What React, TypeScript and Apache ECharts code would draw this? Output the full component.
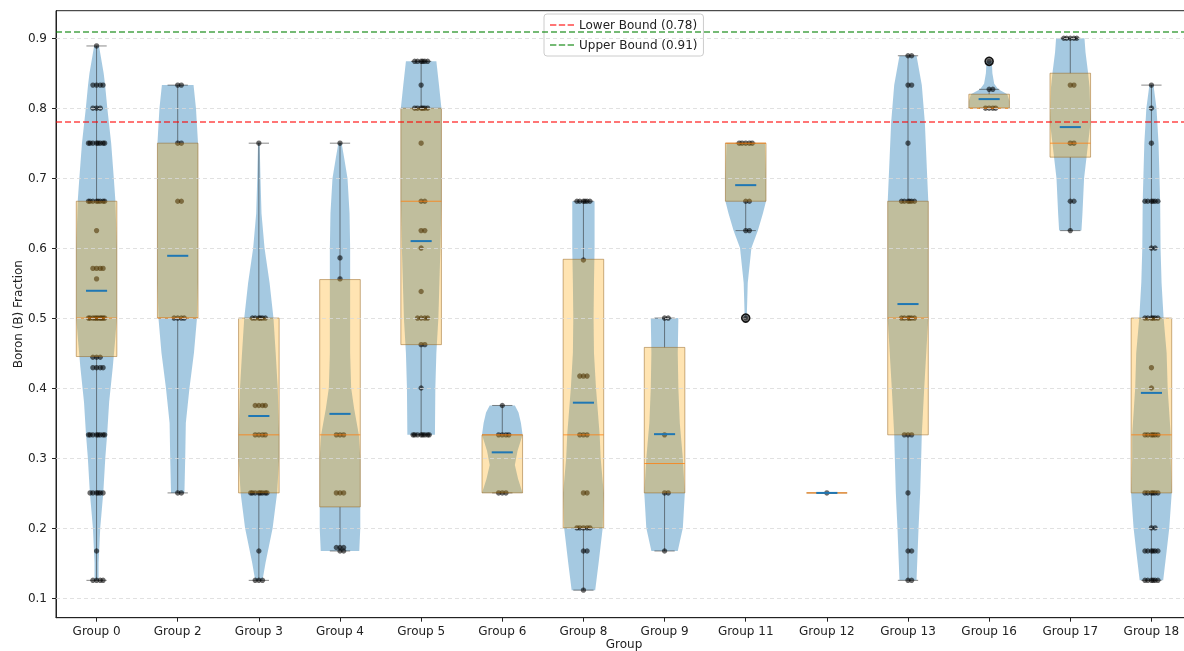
import React, { useEffect, useRef } from 'react';
import * as echarts from 'echarts';

const CATEGORIES = ['Group 0', 'Group 2', 'Group 3', 'Group 4', 'Group 5', 'Group 6', 'Group 8', 'Group 9', 'Group 11', 'Group 12', 'Group 13', 'Group 16', 'Group 17', 'Group 18'];

const Y_TICKS = [0.1, 0.2, 0.3, 0.4, 0.5, 0.6, 0.7, 0.8, 0.9];

const LOWER_BOUND = 0.78;
const UPPER_BOUND = 0.91;

// box statistics per group
const Q1 = [0.445, 0.5, 0.25, 0.23, 0.462, 0.25, 0.2, 0.25, 0.667, 0.25, 0.333, 0.8, 0.73, 0.25];
const Q3 = [0.667, 0.75, 0.5, 0.555, 0.8, 0.333, 0.584, 0.458, 0.75, 0.25, 0.667, 0.82, 0.85, 0.5];
const MEDIAN = [0.5, 0.5, 0.333, 0.333, 0.667, 0.333, 0.333, 0.292, 0.75, 0.25, 0.5, 0.8, 0.75, 0.333];
const MEAN = [0.539, 0.589, 0.36, 0.363, 0.61, 0.308, 0.379, 0.334, 0.69, 0.25, 0.52, 0.813, 0.773, 0.393];
const WHISKER_LOW = [0.125, 0.25, 0.125, 0.167, 0.333, 0.25, 0.111, 0.167, 0.625, 0.25, 0.125, 0.8, 0.625, 0.125];
const WHISKER_HIGH = [0.889, 0.833, 0.75, 0.75, 0.867, 0.375, 0.667, 0.5, 0.75, 0.25, 0.875, 0.827, 0.9, 0.833];
const FLIERS = [[], [], [], [], [], [], [], [], [0.5], [], [], [0.867], [], []];

// violin density profiles: [value, relative width (1 = widest)]
const VIOLINS = [
  [[0.125, 0.1], [0.15, 0.1], [0.2, 0.18], [0.25, 0.33], [0.3, 0.43], [0.333, 0.52], [0.38, 0.62], [0.43, 0.8], [0.47, 0.92], [0.5, 1], [0.6, 1], [0.667, 0.93], [0.7, 0.85], [0.75, 0.72], [0.8, 0.53], [0.833, 0.42], [0.85, 0.35], [0.889, 0.12]],
  [[0.25, 0.33], [0.3, 0.37], [0.35, 0.4], [0.4, 0.58], [0.45, 0.8], [0.5, 0.95], [0.55, 1], [0.667, 1], [0.75, 1], [0.8, 0.9], [0.833, 0.78]],
  [[0.125, 0.18], [0.15, 0.33], [0.2, 0.68], [0.25, 0.9], [0.3, 1], [0.333, 1], [0.4, 0.93], [0.45, 0.83], [0.5, 0.72], [0.55, 0.53], [0.6, 0.28], [0.65, 0.13], [0.7, 0.08], [0.75, 0.04]],
  [[0.167, 0.95], [0.2, 1], [0.23, 1], [0.3, 1], [0.333, 0.93], [0.37, 0.7], [0.4, 0.55], [0.45, 0.5], [0.5, 0.5], [0.555, 0.5], [0.6, 0.5], [0.65, 0.47], [0.7, 0.37], [0.73, 0.2], [0.75, 0.08]],
  [[0.333, 0.68], [0.4, 0.7], [0.45, 0.75], [0.5, 0.85], [0.6, 0.95], [0.667, 1], [0.75, 1], [0.8, 1], [0.833, 0.88], [0.867, 0.75]],
  [[0.25, 1], [0.27, 0.78], [0.29, 0.62], [0.31, 0.75], [0.333, 1], [0.35, 0.92], [0.365, 0.8], [0.375, 0.62]],
  [[0.111, 0.58], [0.15, 0.75], [0.2, 0.95], [0.25, 1], [0.3, 0.85], [0.333, 0.8], [0.4, 0.62], [0.45, 0.52], [0.5, 0.5], [0.55, 0.52], [0.6, 0.55], [0.667, 0.55]],
  [[0.167, 0.65], [0.2, 0.9], [0.25, 1], [0.3, 0.9], [0.35, 0.75], [0.4, 0.68], [0.45, 0.65], [0.5, 0.68]],
  [[0.5, 0.05], [0.55, 0.1], [0.6, 0.28], [0.625, 0.6], [0.65, 0.85], [0.667, 1], [0.7, 1], [0.75, 0.95]],
  [],
  [[0.125, 0.42], [0.2, 0.52], [0.25, 0.6], [0.3, 0.65], [0.333, 0.68], [0.4, 0.8], [0.5, 1], [0.6, 1], [0.667, 1], [0.7, 0.95], [0.78, 0.83], [0.833, 0.68], [0.875, 0.42]],
  [[0.8, 1], [0.81, 1], [0.82, 0.9], [0.827, 0.45], [0.835, 0.25], [0.85, 0.16], [0.867, 0.13]],
  [[0.625, 0.55], [0.65, 0.6], [0.7, 0.68], [0.73, 0.8], [0.78, 1], [0.83, 0.95], [0.85, 0.88], [0.88, 0.75], [0.9, 0.7]],
  [[0.125, 0.58], [0.167, 0.75], [0.2, 0.88], [0.25, 1], [0.3, 0.95], [0.333, 0.95], [0.4, 0.8], [0.45, 0.75], [0.5, 0.6], [0.55, 0.5], [0.6, 0.45], [0.667, 0.43], [0.75, 0.35], [0.8, 0.25], [0.833, 0.1]],
];

// individual observations per group
const POINTS = [
  [0.889, 0.833, 0.833, 0.833, 0.833, 0.8, 0.8, 0.8, 0.75, 0.75, 0.75, 0.75, 0.75, 0.75, 0.75, 0.75, 0.667, 0.667, 0.667, 0.667, 0.667, 0.667, 0.667, 0.667, 0.625, 0.571, 0.571, 0.571, 0.571, 0.556, 0.5, 0.5, 0.5, 0.5, 0.5, 0.5, 0.5, 0.5, 0.5, 0.5, 0.444, 0.444, 0.444, 0.429, 0.429, 0.429, 0.429, 0.333, 0.333, 0.333, 0.333, 0.333, 0.333, 0.333, 0.333, 0.25, 0.25, 0.25, 0.25, 0.25, 0.25, 0.167, 0.125, 0.125, 0.125, 0.125],
  [0.833, 0.833, 0.75, 0.75, 0.667, 0.667, 0.5, 0.5, 0.5, 0.5, 0.25, 0.25],
  [0.75, 0.5, 0.5, 0.5, 0.5, 0.5, 0.5, 0.375, 0.375, 0.375, 0.375, 0.333, 0.333, 0.333, 0.333, 0.25, 0.25, 0.25, 0.25, 0.25, 0.25, 0.25, 0.25, 0.167, 0.125, 0.125, 0.125],
  [0.75, 0.586, 0.556, 0.333, 0.333, 0.333, 0.25, 0.25, 0.25, 0.172, 0.172, 0.172, 0.167, 0.167],
  [0.867, 0.867, 0.867, 0.867, 0.867, 0.867, 0.833, 0.8, 0.8, 0.8, 0.8, 0.8, 0.8, 0.75, 0.667, 0.667, 0.625, 0.625, 0.6, 0.538, 0.5, 0.5, 0.5, 0.5, 0.462, 0.462, 0.4, 0.333, 0.333, 0.333, 0.333, 0.333, 0.333, 0.333, 0.333],
  [0.375, 0.333, 0.333, 0.333, 0.333, 0.25, 0.25, 0.25],
  [0.667, 0.667, 0.667, 0.667, 0.667, 0.667, 0.583, 0.417, 0.417, 0.417, 0.333, 0.333, 0.333, 0.25, 0.25, 0.2, 0.2, 0.2, 0.2, 0.2, 0.167, 0.167, 0.111],
  [0.5, 0.5, 0.333, 0.25, 0.25, 0.167],
  [0.75, 0.75, 0.75, 0.75, 0.75, 0.667, 0.667, 0.625, 0.625, 0.5],
  [0.25],
  [0.875, 0.875, 0.833, 0.833, 0.75, 0.667, 0.667, 0.667, 0.667, 0.667, 0.667, 0.5, 0.5, 0.5, 0.5, 0.5, 0.5, 0.333, 0.333, 0.333, 0.25, 0.167, 0.167, 0.125, 0.125],
  [0.867, 0.827, 0.827, 0.8, 0.8, 0.8, 0.8],
  [0.9, 0.9, 0.9, 0.9, 0.9, 0.833, 0.833, 0.75, 0.75, 0.667, 0.667, 0.625],
  [0.833, 0.8, 0.75, 0.667, 0.667, 0.667, 0.667, 0.667, 0.667, 0.6, 0.6, 0.5, 0.5, 0.5, 0.5, 0.5, 0.5, 0.429, 0.4, 0.333, 0.333, 0.333, 0.333, 0.333, 0.333, 0.25, 0.25, 0.25, 0.25, 0.25, 0.25, 0.2, 0.2, 0.167, 0.167, 0.167, 0.167, 0.167, 0.167, 0.125, 0.125, 0.125, 0.125, 0.125, 0.125],
];

// horizontal jitter pattern for stacked observations (fraction of category band)
const JITTER = [0, 0.045, -0.045, 0.08, -0.08, 0.02, -0.1, 0.1, -0.02, 0.06, -0.06, 0.11];

const FONT = 'DejaVu Sans';
const TEXT_COLOR = '#222';
const DASH_ICON = 'path://M0,0h6.5v1.6h-6.5zM9,0h6.5v1.6h-6.5zM18,0h6.5v1.6h-6.5z';

export default function App() {
  const ref = useRef<HTMLDivElement>(null);

  useEffect(() => {
    if (!ref.current) return;
    const chart = echarts.init(ref.current, null, { renderer: 'svg' });

    const groupData = CATEGORIES.map((_, i) => [i, MEDIAN[i]]);
    const pointData: number[][] = [];
    POINTS.forEach((vals, g) => {
      const seen: Record<string, number> = {};
      vals.forEach((v) => {
        const k = (seen[v] = (seen[v] ?? -1) + 1);
        pointData.push([g, v, k]);
      });
    });
    const flierData: number[][] = [];
    FLIERS.forEach((vals, g) => vals.forEach((v) => flierData.push([g, v])));

    const violinRender = (params: any, api: any) => {
      const i = params.dataIndex;
      const prof = VIOLINS[i];
      if (!prof.length) return null;
      const cx = api.coord([i, 0])[0];
      const half = api.size([1, 0])[0] * 0.25;
      const right = prof.map(([v, w]) => [cx + w * half, api.coord([i, v])[1]]);
      const left = prof
        .slice()
        .reverse()
        .map(([v, w]) => [cx - w * half, api.coord([i, v])[1]]);
      return {
        type: 'polygon',
        shape: { points: right.concat(left) },
        style: { fill: 'rgba(31,119,180,0.4)', stroke: 'none' },
      };
    };

    const whiskerRender = (params: any, api: any) => {
      const i = params.dataIndex;
      const cx = api.coord([i, 0])[0];
      const band = api.size([1, 0])[0];
      const capHalf = band * 0.125;
      const yQ1 = api.coord([i, Q1[i]])[1];
      const yQ3 = api.coord([i, Q3[i]])[1];
      const yLo = api.coord([i, WHISKER_LOW[i]])[1];
      const yHi = api.coord([i, WHISKER_HIGH[i]])[1];
      const st = { stroke: 'rgba(40,40,40,0.55)', lineWidth: 1 };
      return {
        type: 'group',
        children: [
          { type: 'line', shape: { x1: cx, y1: yQ3, x2: cx, y2: yHi }, style: st },
          { type: 'line', shape: { x1: cx, y1: yQ1, x2: cx, y2: yLo }, style: st },
          { type: 'line', shape: { x1: cx - capHalf, y1: yHi, x2: cx + capHalf, y2: yHi }, style: st },
          { type: 'line', shape: { x1: cx - capHalf, y1: yLo, x2: cx + capHalf, y2: yLo }, style: st },
        ],
      };
    };

    const pointRender = (params: any, api: any) => {
      const [g, v, k] = pointData[params.dataIndex];
      const band = api.size([1, 0])[0];
      const p = api.coord([g, v]);
      return {
        type: 'circle',
        shape: { cx: p[0] + JITTER[k % JITTER.length] * band, cy: p[1], r: 2.7 },
        style: { fill: 'rgba(0,0,0,0.58)', stroke: 'none' },
      };
    };

    const boxRender = (params: any, api: any) => {
      const i = params.dataIndex;
      const cx = api.coord([i, 0])[0];
      const band = api.size([1, 0])[0];
      const halfBox = band * 0.25;
      const halfMean = band * 0.13;
      const yQ1 = api.coord([i, Q1[i]])[1];
      const yQ3 = api.coord([i, Q3[i]])[1];
      const yMed = api.coord([i, MEDIAN[i]])[1];
      const yMean = api.coord([i, MEAN[i]])[1];
      return {
        type: 'group',
        children: [
          {
            type: 'rect',
            shape: { x: cx - halfBox, y: yQ3, width: halfBox * 2, height: yQ1 - yQ3 },
            style: { fill: 'rgba(255,165,0,0.3)', stroke: 'rgba(150,100,30,0.5)', lineWidth: 1 },
          },
          {
            type: 'line',
            shape: { x1: cx - halfBox, y1: yMed, x2: cx + halfBox, y2: yMed },
            style: { stroke: 'rgba(255,127,14,0.8)', lineWidth: 1 },
          },
          {
            type: 'line',
            shape: { x1: cx - halfMean, y1: yMean, x2: cx + halfMean, y2: yMean },
            style: { stroke: '#1f77b4', lineWidth: 2 },
          },
        ],
      };
    };

    const flierRender = (params: any, api: any) => {
      const [g, v] = flierData[params.dataIndex];
      const p = api.coord([g, v]);
      return {
        type: 'circle',
        shape: { cx: p[0], cy: p[1], r: 4 },
        style: { fill: 'rgba(0,0,0,0.35)', stroke: '#111', lineWidth: 1.6 },
      };
    };

    const option = {
      animation: false,
      textStyle: { fontFamily: FONT },
      grid: {
        left: 56,
        right: -8,
        top: 10.7,
        bottom: 33.3,
        outerBoundsMode: 'none',
        containLabel: false,
        show: true,
        borderColor: '#222',
        borderWidth: 1,
        backgroundColor: 'transparent',
      },
      legend: {
        data: [`Lower Bound (${LOWER_BOUND})`, `Upper Bound (${UPPER_BOUND})`],
        orient: 'vertical',
        left: 544,
        top: 14,
        icon: DASH_ICON,
        itemWidth: 24,
        itemHeight: 1.6,
        itemGap: 6,
        padding: [4, 6, 4, 6],
        backgroundColor: 'rgba(255,255,255,0.85)',
        borderColor: '#cccccc',
        borderWidth: 1,
        borderRadius: 3,
        itemStyle: { borderWidth: 0 },
        lineStyle: { width: 0 },
        textStyle: { fontFamily: FONT, fontSize: 12, color: TEXT_COLOR, lineHeight: 14 },
      },
      xAxis: {
        type: 'category',
        data: CATEGORIES,
        boundaryGap: true,
        axisLine: { show: true, lineStyle: { color: '#222', width: 1 } },
        axisTick: { show: true, alignWithLabel: true, length: 4, lineStyle: { color: '#222' } },
        axisLabel: { color: TEXT_COLOR, fontSize: 12, fontFamily: FONT, margin: 7 },
        splitLine: { show: false },
        name: 'Group',
        nameLocation: 'middle',
        nameGap: 20,
        nameMoveOverlap: false,
        nameTextStyle: { color: TEXT_COLOR, fontSize: 12, fontFamily: FONT, lineHeight: 13 },
      },
      yAxis: {
        type: 'value',
        min: 0.0716,
        max: 0.9394,
        axisLine: { show: true, lineStyle: { color: '#222', width: 1 } },
        axisTick: { show: true, length: 4, customValues: Y_TICKS, lineStyle: { color: '#222' } },
        axisLabel: {
          customValues: Y_TICKS,
          color: TEXT_COLOR,
          fontSize: 12,
          fontFamily: FONT,
          margin: 9,
          formatter: (v: number) => v.toFixed(1),
        },
        splitLine: { show: false },
        name: 'Boron (B) Fraction',
        nameLocation: 'middle',
        nameGap: 32,
        nameRotate: 90,
        nameMoveOverlap: false,
        nameTextStyle: { color: TEXT_COLOR, fontSize: 12, fontFamily: FONT },
      },
      series: [
        {
          type: 'line',
          name: 'grid',
          data: [],
          silent: true,
          z: 0,
          markLine: {
            silent: true,
            symbol: 'none',
            label: { show: false },
            lineStyle: { color: '#d9d9d9', type: [4, 3], width: 0.8 },
            data: Y_TICKS.map((v) => ({ yAxis: v })),
          },
        },
        {
          type: 'custom',
          name: 'violins',
          data: groupData,
          encode: { x: 0, y: 1 },
          renderItem: violinRender,
          z: 1,
          silent: true,
        },
        {
          type: 'custom',
          name: 'whiskers',
          data: groupData,
          encode: { x: 0, y: 1 },
          renderItem: whiskerRender,
          z: 2,
          silent: true,
        },
        {
          type: 'custom',
          name: 'points',
          data: pointData,
          encode: { x: 0, y: 1 },
          renderItem: pointRender,
          z: 3,
          silent: true,
        },
        {
          type: 'custom',
          name: 'boxes',
          data: groupData,
          encode: { x: 0, y: 1 },
          renderItem: boxRender,
          z: 4,
          silent: true,
        },
        {
          type: 'custom',
          name: 'fliers',
          data: flierData,
          encode: { x: 0, y: 1 },
          renderItem: flierRender,
          z: 5,
          silent: true,
        },
        {
          type: 'line',
          name: `Lower Bound (${LOWER_BOUND})`,
          data: [],
          symbol: 'none',
          color: 'rgba(255,0,0,0.72)',
          lineStyle: { color: 'rgba(255,0,0,0.72)', type: [6, 3], width: 1.5 },
          z: 6,
          markLine: {
            silent: true,
            symbol: 'none',
            label: { show: false },
            lineStyle: { color: 'rgba(255,0,0,0.72)', type: [6, 3], width: 1.5 },
            data: [{ yAxis: LOWER_BOUND }],
          },
        },
        {
          type: 'line',
          name: `Upper Bound (${UPPER_BOUND})`,
          data: [],
          symbol: 'none',
          color: 'rgba(0,128,0,0.72)',
          lineStyle: { color: 'rgba(0,128,0,0.72)', type: [6, 3], width: 1.5 },
          z: 6,
          markLine: {
            silent: true,
            symbol: 'none',
            label: { show: false },
            lineStyle: { color: 'rgba(0,128,0,0.72)', type: [6, 3], width: 1.5 },
            data: [{ yAxis: UPPER_BOUND }],
          },
        },
      ],
    };

    chart.setOption(option as any);
    return () => chart.dispose();
  }, []);

  return <div ref={ref} style={{ position: 'fixed', left: 0, top: 0, width: 1184, height: 651 }} />;
}
